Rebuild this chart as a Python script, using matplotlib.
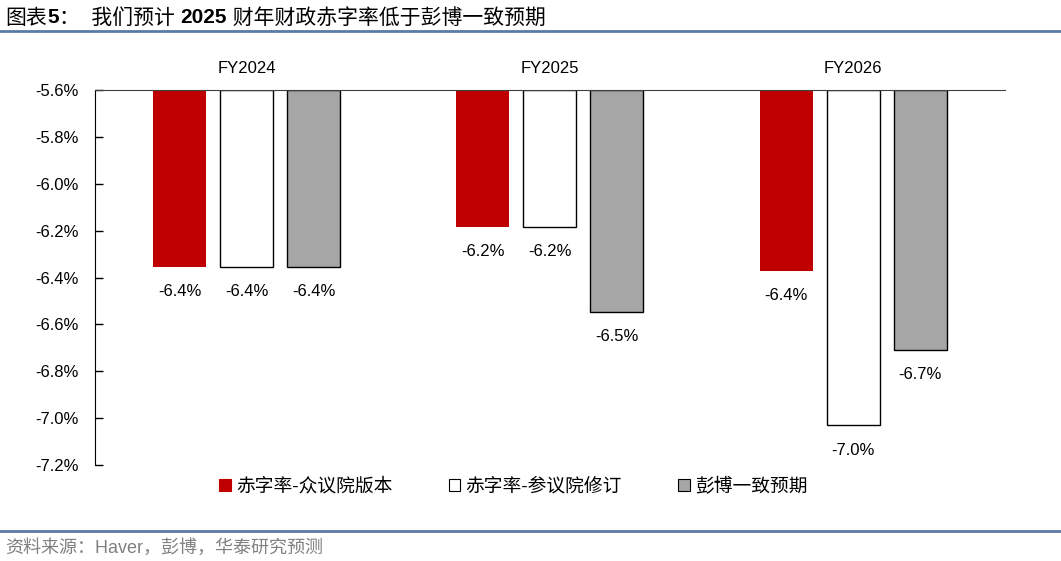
import numpy as np
import matplotlib.pyplot as plt
from matplotlib.patches import Patch

plt.rcParams['font.family'] = ['Liberation Sans', 'Noto Sans CJK SC', 'DejaVu Sans']

years = ['FY2024', 'FY2025', 'FY2026']
house = [-6.355, -6.184, -6.372]      # 赤字率-众议院版本
senate = [-6.355, -6.184, -7.031]     # 赤字率-参议院修订
bloomberg = [-6.355, -6.546, -6.708]  # 彭博一致预期
series_names = ['赤字率-众议院版本', '赤字率-参议院修订', '彭博一致预期']
yticks = [-5.6, -5.8, -6.0, -6.2, -6.4, -6.6, -6.8, -7.0, -7.2]

base = -5.6
fig = plt.figure(figsize=(10.61, 5.61), dpi=100)
ax = fig.add_axes([0.0895, 0.171, 0.8575, 0.6686])

x = np.arange(len(years))
w = 0.175
step = 0.221
styles = [
    dict(color='#c00000', edgecolor='#c00000', linewidth=0),
    dict(color='white', edgecolor='black', linewidth=1.0),
    dict(color='#a6a6a6', edgecolor='black', linewidth=1.0),
]
for i, (vals, st) in enumerate(zip([house, senate, bloomberg], styles)):
    vals = np.array(vals)
    xs = x + (i - 1) * step
    ax.bar(xs, vals - base, bottom=base, width=w, zorder=2, **st)
    for xi, v in zip(xs, vals):
        ax.annotate(f'{v:.1f}%', (xi, v), xytext=(0, -18), textcoords='offset points',
                    ha='center', va='center', fontsize=12)

ax.set_xlim(-0.5, 2.5)
ax.set_ylim(-7.2, -5.6)
ax.set_yticks(yticks)
ax.set_yticklabels([f'{t:.1f}%' for t in yticks], fontsize=12)
ax.tick_params(axis='y', direction='in', length=6, pad=12, width=1)
ax.xaxis.tick_top()
ax.set_xticks(x)
ax.set_xticklabels(years, fontsize=12)
ax.tick_params(axis='x', length=0, pad=10)
ax.spines['right'].set_visible(False)
ax.spines['bottom'].set_visible(False)
ax.spines['top'].set_color('#404040')
ax.spines['top'].set_zorder(3)
ax.spines['left'].set_color('black')

handles = [Patch(facecolor=s['color'], edgecolor='black' if i else '#c00000', linewidth=0.8)
           for i, s in enumerate(styles)]
fig.legend(handles, series_names, loc='center', bbox_to_anchor=(0.484, 0.132), ncol=3,
           frameon=False, fontsize=13.5, handlelength=0.6, handleheight=0.6,
           handletextpad=0.3, columnspacing=3.0)

# title: CJK in regular weight, numbers in bold
parts = [('图表', 'normal'), ('5', 'bold'), ('：  我们预计 ', 'normal'),
         ('2025', 'bold'), (' 财年财政赤字率低于彭博一致预期', 'normal')]
fig.canvas.draw()
renderer = fig.canvas.get_renderer()
xpos = 0.005
for s, wt in parts:
    t = fig.text(xpos, 0.968, s, fontsize=15, fontweight=wt, va='center', ha='left')
    bb = t.get_window_extent(renderer=renderer)
    xpos += bb.width / fig.bbox.width

fig.add_artist(plt.Line2D([0, 1], [0.945, 0.945], color='#5b7aa6', linewidth=2))
fig.add_artist(plt.Line2D([0, 1], [0.053, 0.053], color='#5b7aa6', linewidth=2))
fig.text(0.005, 0.023, '资料来源：Haver，彭博，华泰研究预测', fontsize=13,
         color='#808080', va='center', ha='left')

fig.savefig('out.png', dpi=100)
